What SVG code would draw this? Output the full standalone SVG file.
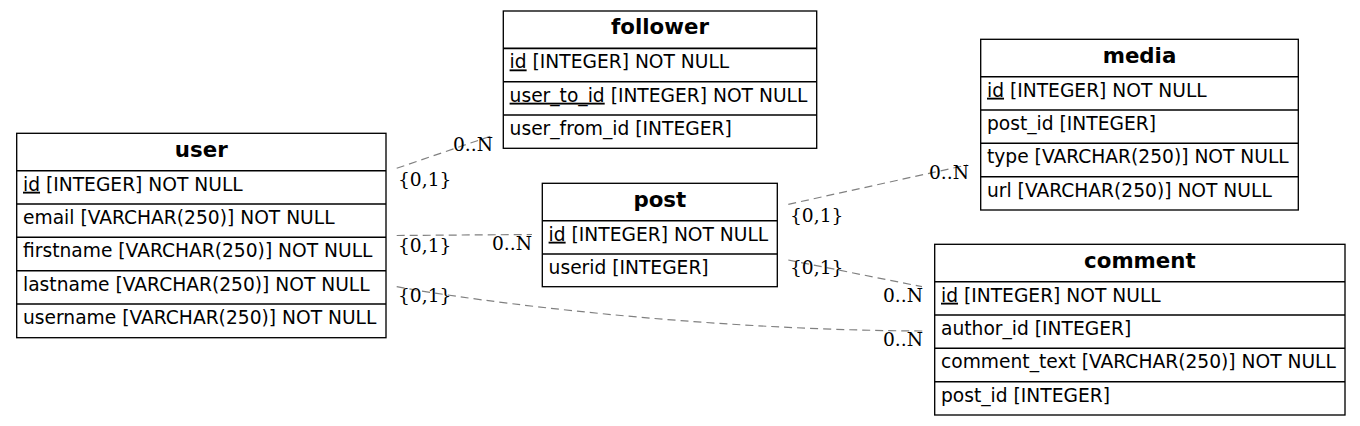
<svg xmlns="http://www.w3.org/2000/svg" width="1360" height="426" viewBox="0 0 1360 426">
<style>
.box{fill:#fff;stroke:#000;stroke-width:1.33}
.sep{stroke:#000;stroke-width:1.6}
.hd{font-family:"DejaVu Sans",sans-serif;font-weight:bold;font-size:21.33px;text-anchor:middle;fill:#000}
.fd{font-family:"DejaVu Sans",sans-serif;font-size:18.67px;fill:#000}
.u{text-decoration:underline}
.edge{fill:none;stroke:#808080;stroke-width:1.2;stroke-dasharray:8,5}
.lb{font-family:"DejaVu Serif",serif;font-size:18.67px;fill:#000}
</style>
<rect width="1360" height="426" fill="#fff"/>
<g id="connectors">
<path class="edge" d="M396.7,168.3 L494,135"/>
<path class="edge" d="M396.7,235.5 L532,234.5"/>
<path class="edge" d="M396.7,286.7 C480,302 700,330 923,331"/>
<path class="edge" d="M788.3,204.3 L967,165"/>
<path class="edge" d="M788.3,260 L922,286.7"/>
<text class="lb" x="398" y="186">{0,1}</text>
<text class="lb" x="453" y="150.7">0..N</text>
<text class="lb" x="398" y="251.5">{0,1}</text>
<text class="lb" x="492" y="250">0..N</text>
<text class="lb" x="398" y="302.3">{0,1}</text>
<text class="lb" x="883" y="346">0..N</text>
<text class="lb" x="790" y="221.7">{0,1}</text>
<text class="lb" x="929" y="179">0..N</text>
<text class="lb" x="790" y="274">{0,1}</text>
<text class="lb" x="883" y="301.7">0..N</text>
</g>
<g id="user">
<rect class="box" x="16.7" y="133.3" width="369.3" height="204.4"/>
<line class="sep" x1="16.7" y1="170.7" x2="386" y2="170.7"/>
<line class="sep" x1="16.7" y1="204" x2="386" y2="204"/>
<line class="sep" x1="16.7" y1="237.3" x2="386" y2="237.3"/>
<line class="sep" x1="16.7" y1="270.7" x2="386" y2="270.7"/>
<line class="sep" x1="16.7" y1="304" x2="386" y2="304"/>
<text class="hd" x="201.3" y="156.7">user</text>
<text class="fd" x="23" y="190.7"><tspan class="u">id</tspan> [INTEGER] NOT NULL</text>
<text class="fd" x="23" y="224">email [VARCHAR(250)] NOT NULL</text>
<text class="fd" x="23" y="257.3">firstname [VARCHAR(250)] NOT NULL</text>
<text class="fd" x="23" y="290.7">lastname [VARCHAR(250)] NOT NULL</text>
<text class="fd" x="23" y="324">username [VARCHAR(250)] NOT NULL</text>
</g>
<g id="follower">
<rect class="box" x="503.3" y="11" width="313.4" height="137.3"/>
<line class="sep" x1="503.3" y1="48.4" x2="816.7" y2="48.4"/>
<line class="sep" x1="503.3" y1="81.7" x2="816.7" y2="81.7"/>
<line class="sep" x1="503.3" y1="115" x2="816.7" y2="115"/>
<text class="hd" x="660" y="34.4">follower</text>
<text class="fd" x="509.6" y="68.4"><tspan class="u">id</tspan> [INTEGER] NOT NULL</text>
<text class="fd" x="509.6" y="101.7"><tspan class="u">user_to_id</tspan> [INTEGER] NOT NULL</text>
<text class="fd" x="509.6" y="135">user_from_id [INTEGER]</text>
</g>
<g id="post">
<rect class="box" x="542.3" y="183.3" width="235" height="103.4"/>
<line class="sep" x1="542.3" y1="220.7" x2="777.3" y2="220.7"/>
<line class="sep" x1="542.3" y1="254" x2="777.3" y2="254"/>
<text class="hd" x="659.8" y="206.7">post</text>
<text class="fd" x="548.6" y="240.7"><tspan class="u">id</tspan> [INTEGER] NOT NULL</text>
<text class="fd" x="548.6" y="274">userid [INTEGER]</text>
</g>
<g id="media">
<rect class="box" x="980.7" y="39.3" width="317.6" height="170.7"/>
<line class="sep" x1="980.7" y1="76.7" x2="1298.3" y2="76.7"/>
<line class="sep" x1="980.7" y1="110" x2="1298.3" y2="110"/>
<line class="sep" x1="980.7" y1="143.3" x2="1298.3" y2="143.3"/>
<line class="sep" x1="980.7" y1="176.7" x2="1298.3" y2="176.7"/>
<text class="hd" x="1139.5" y="62.7">media</text>
<text class="fd" x="987" y="96.7"><tspan class="u">id</tspan> [INTEGER] NOT NULL</text>
<text class="fd" x="987" y="130">post_id [INTEGER]</text>
<text class="fd" x="987" y="163.3">type [VARCHAR(250)] NOT NULL</text>
<text class="fd" x="987" y="196.7">url [VARCHAR(250)] NOT NULL</text>
</g>
<g id="comment">
<rect class="box" x="934.7" y="244.3" width="410.3" height="170.7"/>
<line class="sep" x1="934.7" y1="281.7" x2="1345" y2="281.7"/>
<line class="sep" x1="934.7" y1="315" x2="1345" y2="315"/>
<line class="sep" x1="934.7" y1="348.3" x2="1345" y2="348.3"/>
<line class="sep" x1="934.7" y1="381.7" x2="1345" y2="381.7"/>
<text class="hd" x="1139.9" y="267.7">comment</text>
<text class="fd" x="941" y="301.7"><tspan class="u">id</tspan> [INTEGER] NOT NULL</text>
<text class="fd" x="941" y="335">author_id [INTEGER]</text>
<text class="fd" x="941" y="368.3">comment_text [VARCHAR(250)] NOT NULL</text>
<text class="fd" x="941" y="401.7">post_id [INTEGER]</text>
</g>
</svg>
